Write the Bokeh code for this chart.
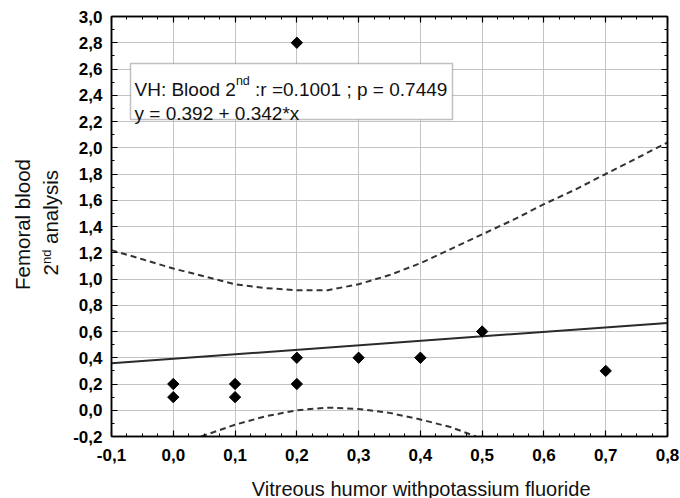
import numpy as np
from bokeh.plotting import figure
from bokeh.layouts import row, column
from bokeh.models import (Range1d, FixedTicker, LinearAxis, Label, BoxAnnotation,
                          CustomLabelingPolicy)
from bokeh.core.properties import value
from bokeh.embed import file_html
from bokeh.resources import INLINE

# ---- data ----
vh = [0.0, 0.0, 0.1, 0.1, 0.2, 0.2, 0.2, 0.3, 0.4, 0.5, 0.7]
fb = [0.2, 0.1, 0.2, 0.1, 2.8, 0.4, 0.2, 0.4, 0.4, 0.6, 0.3]

intercept = 0.392
slope = 0.342
reg_x = [-0.1, 0.8]

upper_x = [-0.1, -0.05, 0.0, 0.05, 0.1, 0.15, 0.2, 0.25, 0.3, 0.35, 0.4, 0.45, 0.5, 0.55, 0.6, 0.65, 0.7, 0.75, 0.8]
upper_y = [1.22, 1.15, 1.08, 1.02, 0.96, 0.93, 0.915, 0.915, 0.96, 1.03, 1.12, 1.23, 1.34, 1.45, 1.57, 1.68, 1.80, 1.92, 2.04]

lower_x = [0.045, 0.1, 0.15, 0.2, 0.25, 0.3, 0.35, 0.4, 0.45, 0.49]
lower_y = [-0.2, -0.11, -0.045, 0.0, 0.02, 0.01, -0.02, -0.07, -0.13, -0.2]

x_ticks = [-0.1, 0.0, 0.1, 0.2, 0.3, 0.4, 0.5, 0.6, 0.7, 0.8]
x_tick_labels = ["-0,1", "0,0", "0,1", "0,2", "0,3", "0,4", "0,5", "0,6", "0,7", "0,8"]
y_ticks = [-0.2, 0.0, 0.2, 0.4, 0.6, 0.8, 1.0, 1.2, 1.4, 1.6, 1.8, 2.0, 2.2, 2.4, 2.6, 2.8, 3.0]
y_tick_labels = ["-0,2", "0,0", "0,2", "0,4", "0,6", "0,8", "1,0", "1,2", "1,4", "1,6",
                 "1,8", "2,0", "2,2", "2,4", "2,6", "2,8", "3,0"]

x_title = "Vitreous humor withpotassium fluoride"
y_title_1 = "Femoral blood"
y_title_2 = ["2", "nd", "analysis"]
stats_line_1 = ["VH: Blood 2", "nd", ":r =0.1001 ; p = 0.7449"]
stats_line_2 = "y = 0.392 + 0.342*x"

FONT = "Liberation Sans"
TXT = "#111111"

# page layout in pixels
W, H = 680, 498
LEFT_W = 66          # strip for the y title
BOTTOM_H = 28        # strip for the x title
FL, FR, FT, FB = 111, 667, 16, 436
XMIN, XMAX, YMIN, YMAX = -0.1, 0.8, -0.2, 3.0


def dx(px):
    return XMIN + (px - FL) * (XMAX - XMIN) / (FR - FL)


def dy(py):
    return YMAX - (py - FT) * (YMAX - YMIN) / (FB - FT)


p = figure(width=W - LEFT_W, height=H - BOTTOM_H, output_backend="svg", toolbar_location=None,
           x_range=Range1d(XMIN, XMAX), y_range=Range1d(YMIN, YMAX),
           min_border_left=FL - LEFT_W, min_border_right=W - FR, min_border_top=FT,
           min_border_bottom=H - BOTTOM_H - FB,
           background_fill_color="white", border_fill_color="white")

x_minor = [round(v, 3) for v in np.arange(-0.1, 0.8001, 0.025)]
y_minor = [round(v, 2) for v in np.arange(-0.2, 3.0001, 0.1)]
xt = FixedTicker(ticks=x_ticks, minor_ticks=x_minor)
yt = FixedTicker(ticks=y_ticks, minor_ticks=y_minor)


def style_axis(ax, ticker, show_labels, overrides=None):
    ax.ticker = ticker
    ax.axis_line_color = "black"
    ax.axis_line_width = 1.5
    ax.major_tick_in = 6
    ax.major_tick_out = 0
    ax.minor_tick_in = 3
    ax.minor_tick_out = 0
    ax.major_tick_line_color = "black"
    ax.minor_tick_line_color = "black"
    ax.major_tick_line_width = 1.2
    ax.minor_tick_line_width = 1
    if show_labels:
        ax.major_label_overrides = overrides
        ax.major_label_text_font = FONT
        ax.major_label_text_font_style = "bold"
        ax.major_label_text_font_size = "17px"
        ax.major_label_text_color = "black"
    else:
        ax.major_label_text_font_size = "0px"
        ax.major_label_standoff = 0
        ax.major_label_policy = CustomLabelingPolicy(code="return []")


style_axis(p.xaxis[0], xt, True, dict(zip(x_ticks, x_tick_labels)))
p.xaxis[0].major_label_standoff = 12
style_axis(p.yaxis[0], yt, True, dict(zip(y_ticks, y_tick_labels)))
p.yaxis[0].major_label_standoff = 9

top_ax = LinearAxis()
style_axis(top_ax, xt, False)
p.add_layout(top_ax, "above")
right_ax = LinearAxis()
style_axis(right_ax, yt, False)
p.add_layout(right_ax, "right")

p.xgrid.ticker = xt
p.ygrid.ticker = yt
for g in (p.xgrid[0], p.ygrid[0]):
    g.grid_line_color = "#c4c4c4"
    g.grid_line_width = 1

p.outline_line_color = "black"
p.outline_line_width = 1.5

# bands and fit
p.line(upper_x, upper_y, line_color="#333333", line_width=2, line_dash="6 4")
p.line(lower_x, lower_y, line_color="#333333", line_width=2, line_dash="6 4")
reg_y = [intercept + slope * x for x in reg_x]
p.line(reg_x, reg_y, line_color="#2a2a2a", line_width=2)

p.scatter(vh, fb, marker="square", angle=np.pi / 4, size=8,
          fill_color="black", line_color="black")

# stats box
box = BoxAnnotation(left=dx(130), right=dx(452), top=dy(63), bottom=dy(119),
                    fill_color="white", fill_alpha=1.0,
                    line_color="#333333", line_width=1.5, level="annotation")
p.add_layout(box)

fs = 19
sfs = 12.5
w1 = 5.336 * fs
wnd = 1.112 * sfs
p.add_layout(Label(x=dx(134), y=dy(89), text=stats_line_1[0], text_font=FONT,
                   text_font_size=f"{fs}px", text_baseline="alphabetic", text_color=TXT))
p.add_layout(Label(x=dx(134 + w1), y=dy(80), text=stats_line_1[1], text_font=FONT,
                   text_font_size=f"{sfs}px", text_baseline="alphabetic", text_color=TXT))
p.add_layout(Label(x=dx(134 + w1 + wnd + 0.278 * fs), y=dy(89), text=stats_line_1[2], text_font=FONT,
                   text_font_size=f"{fs}px", text_baseline="alphabetic", text_color=TXT))
p.add_layout(Label(x=dx(134), y=dy(113), text=stats_line_2, text_font=FONT,
                   text_font_size=f"{fs}px", text_baseline="alphabetic", text_color=TXT))


def strip(width, height):
    f = figure(width=width, height=height, output_backend="svg", toolbar_location=None,
               x_range=Range1d(0, width), y_range=Range1d(0, height),
               x_axis_location=None, y_axis_location=None,
               min_border=0, outline_line_color=None,
               background_fill_color="white", border_fill_color="white")
    f.grid.visible = False
    return f


# ---- left strip: two-line rotated y title (page px -> strip coords: x, H - y) ----
yfig = strip(LEFT_W, H)
yfs = 20.5
ysfs = 13


def ytext(px, py, t, size):
    yfig.text(x=[px], y=[H - py], text=[t], angle=np.pi / 2,
              text_font=value(FONT), text_font_size=value(f"{size}px"),
              text_align="center", text_baseline="middle", text_color=TXT)


ytext(22, 224, y_title_1, yfs)
start = 275
w2 = 0.556 * yfs
wn = 1.112 * ysfs
wa = 3.612 * yfs
ytext(50, start - w2 / 2, y_title_2[0], yfs)
ytext(45.5, start - w2 - wn / 2, y_title_2[1], ysfs)
ytext(50, start - w2 - wn - 0.278 * yfs - wa / 2, y_title_2[2], yfs)

# ---- bottom strip: x title (page y 470..498 -> strip y = H - py) ----
xfig = strip(W - LEFT_W, BOTTOM_H)
xfig.text(x=[408 - LEFT_W], y=[H - 488], text=[x_title],
          text_font=value(FONT), text_font_size=value("20px"),
          text_align="center", text_baseline="middle", text_color=TXT)

layout = row(yfig, column(p, xfig))
open("out.html", "w").write(file_html(layout, INLINE))
